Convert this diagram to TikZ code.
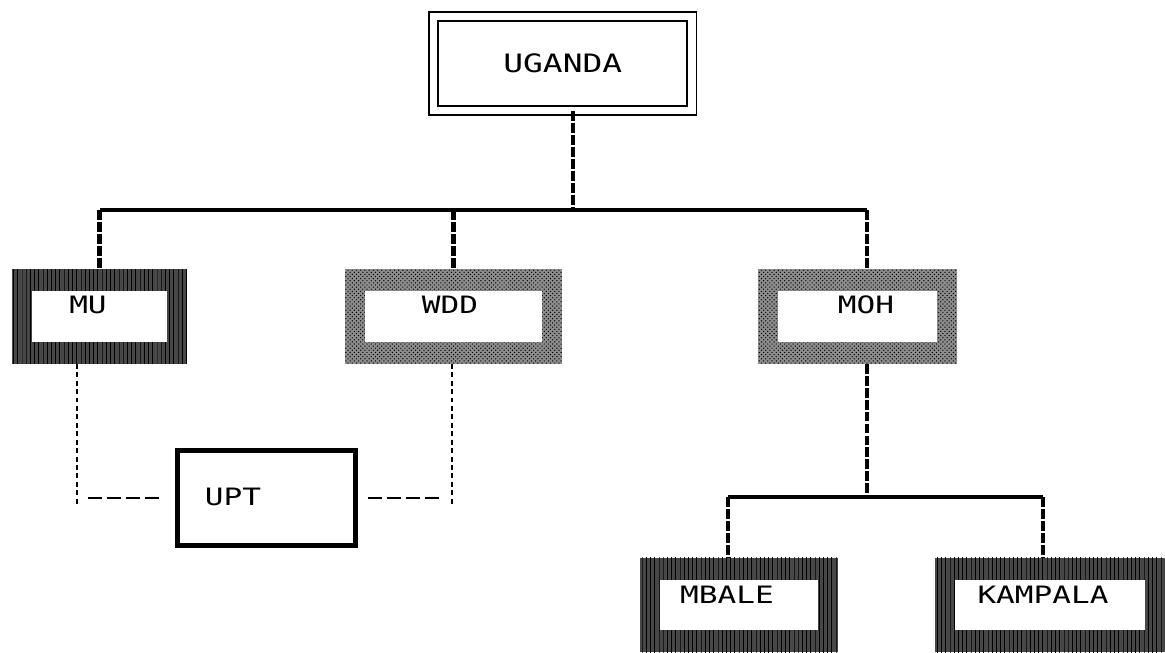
\documentclass[tikz,border=0pt]{standalone}
\usepackage{fontspec}
\setmainfont{DejaVu Sans Mono}[FakeStretch=1.3]
\usetikzlibrary{patterns}

\tikzset{
  darkbox/.style={rectangle, minimum width=#1, minimum height=2.35cm, inner sep=0pt,
    preaction={fill=black!72}, pattern=vertical lines, pattern color=black,
    path picture={\fill[white] ([shift={(0.5cm,-0.55cm)}]path picture bounding box.north west)
      rectangle ([shift={(-0.5cm,0.55cm)}]path picture bounding box.south east);}},
  greybox/.style={rectangle, minimum width=#1, minimum height=2.35cm, inner sep=0pt,
    preaction={fill=black!45}, pattern=crosshatch dots, pattern color=black,
    path picture={\fill[white] ([shift={(0.5cm,-0.55cm)}]path picture bounding box.north west)
      rectangle ([shift={(-0.5cm,0.55cm)}]path picture bounding box.south east);}},
  boxtext/.style={inner sep=0pt, font=\fontsize{17}{20}\selectfont},
  bus/.style={line width=3.2pt},
  drop/.style={line width=3.2pt, dash pattern=on 7pt off 1.5pt},
  fine/.style={line width=1.8pt, dash pattern=on 3.5pt off 2.5pt},
  link/.style={line width=2pt, dash pattern=on 10pt off 3.5pt}
}

\begin{document}
\begin{tikzpicture}[x=0.025cm, y=-0.025cm]
    \useasboundingbox (0,0) rectangle (1165,652);

    % top of the tree
    \node[draw, double, line width=0.045cm, double distance=0.185cm,
          minimum width=6.46cm, minimum height=2.35cm, inner sep=0pt,
          font=\fontsize{18}{20}\selectfont] (uganda) at (562.75,63.5) {UGANDA};

    % second row
    \node[darkbox=4.375cm] (mu) at (99.5,316.5) {};
    \node[greybox=5.425cm] (wdd) at (453.5,316.5) {};
    \node[greybox=4.975cm] (moh) at (857.5,316.5) {};
    \node[boxtext] (mutext) at (88,305) {MU};
    \node[boxtext] (wddtext) at (450,305) {WDD};
    \node[boxtext] (mohtext) at (866,305) {MOH};

    % joint body
    \node[draw, line width=3.5pt, minimum width=4.45cm, minimum height=2.375cm,
          inner sep=0pt] (upt) at (266.5,498) {};
    \node[boxtext] (upttext) at (233,497) {UPT};

    % districts
    \node[darkbox=4.95cm] (mbale) at (739,605) {};
    \node[darkbox=5.75cm] (kampala) at (1050,605) {};
    \node[boxtext] (mbaletext) at (727,595) {MBALE};
    \node[boxtext] (kampalatext) at (1043,595) {KAMPALA};

    \coordinate (hub) at (573,210);
    \coordinate (fork) at (867,497);
    \coordinate (mb) at (728,497);
    \coordinate (kp) at (1043,497);
    \coordinate (ul) at (77,507);
    \coordinate (ur) at (452,507);

    \draw[drop] (uganda.south -| hub) -- (hub);
    \draw[bus] (mu.north |- hub) -- (fork |- hub);
    \draw[drop] (mu.north |- hub) -- (mu.north);
    \draw[drop] (wdd.north |- hub) -- (wdd.north);
    \draw[drop] (fork |- hub) -- (fork |- moh.north);

    \draw[drop] (fork |- moh.south) -- (fork);
    \draw[bus] (mb) -- (kp);
    \draw[drop] (mb) -- (mb |- mbale.north);
    \draw[drop] (kp) -- (kp |- kampala.north);

    \draw[fine] (ul |- mu.south) -- (ul);
    \draw[fine] (ur |- wdd.south) -- (ur);
    \draw[link] (88,0 |- upt.west) -- ([xshift=-0.36cm]upt.west);
    \draw[link] ([xshift=0.25cm]upt.east) -- (440,0 |- upt.east);
\end{tikzpicture}
\end{document}
